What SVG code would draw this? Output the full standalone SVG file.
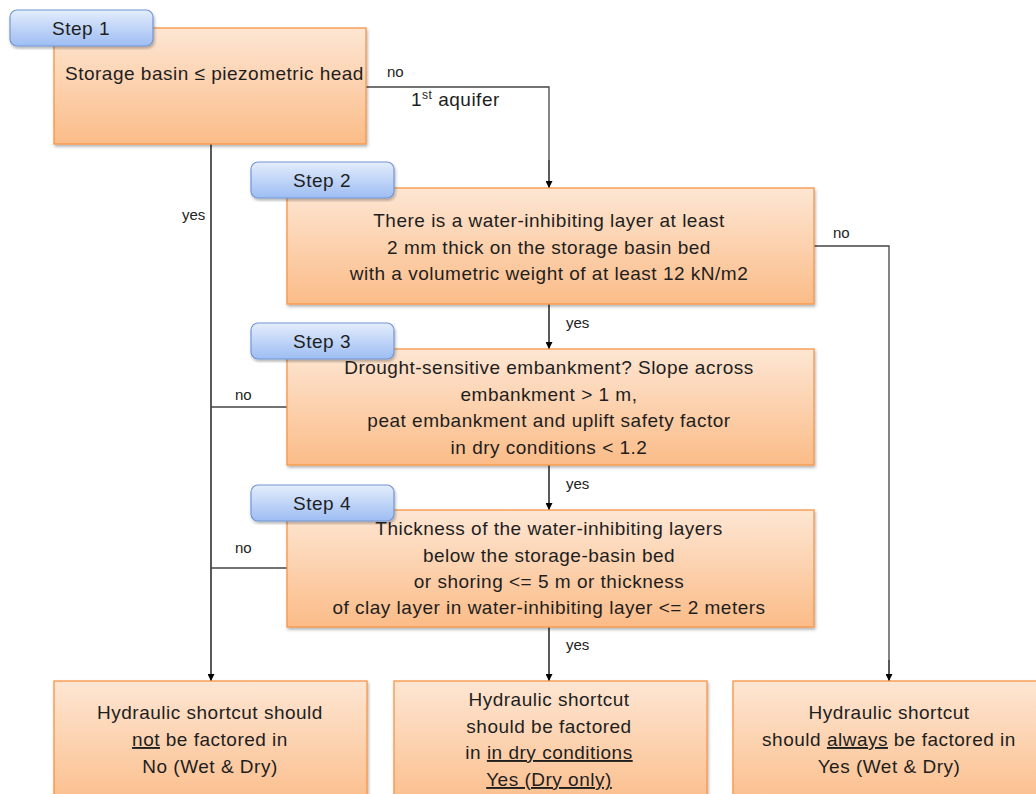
<svg xmlns="http://www.w3.org/2000/svg" width="1036" height="794" viewBox="0 0 1036 794">
<defs>
<linearGradient id="og" x1="0" y1="0" x2="0" y2="1">
<stop offset="0" stop-color="#fde6d3"/>
<stop offset="1" stop-color="#fbbc88"/>
</linearGradient>
<linearGradient id="bg" x1="0" y1="0" x2="0" y2="1">
<stop offset="0" stop-color="#e4edfc"/>
<stop offset="1" stop-color="#9dbdf3"/>
</linearGradient>
<filter id="sh" x="-5%" y="-5%" width="110%" height="115%">
<feDropShadow dx="1" dy="2" stdDeviation="1.5" flood-color="#000" flood-opacity="0.3"/>
</filter>
<marker id="ah" viewBox="0 0 10 10" refX="10" refY="5" markerWidth="7" markerHeight="7" orient="auto" markerUnits="userSpaceOnUse">
<path d="M0,0 L10,5 L0,10 z" fill="#000"/>
</marker>
</defs>
<style>
.box{fill:url(#og);stroke:#f79646;stroke-width:1.3;filter:url(#sh)}
.tab{fill:url(#bg);stroke:#7396d4;stroke-width:1.2;filter:url(#sh)}
.t{font-family:"Liberation Sans",Arial,sans-serif;font-size:19px;letter-spacing:0.5px;fill:#1e1e1e;text-anchor:middle}
.tl{font-family:"Liberation Sans",Arial,sans-serif;font-size:19px;letter-spacing:0.5px;fill:#1e1e1e}
.s{font-family:"Liberation Sans",Arial,sans-serif;font-size:15px;fill:#222}
.ln{fill:none;stroke:#444;stroke-width:1.3}
.ar{fill:none;stroke:#000;stroke-width:1.3;marker-end:url(#ah)}
.u{text-decoration:underline}
</style>
<rect width="1036" height="794" fill="#fff"/>
<g id="connectors">
<path class="ln" d="M366,87 H549 V160"/>
<path class="ar" d="M549,160 V188"/>
<path class="ar" d="M211,144 V681"/>
<path class="ln" d="M814,246 H889 V660"/>
<path class="ar" d="M889,660 V681"/>
<path class="ar" d="M549,304 V349"/>
<path class="ar" d="M549,465 V510"/>
<path class="ar" d="M549,627 V681"/>
<path class="ln" d="M287,407 H211"/>
<path class="ln" d="M287,568 H211"/>
<text class="s" x="387" y="77">no</text>
<text class="tl" x="411" y="106">1<tspan font-size="12" dy="-7">st</tspan><tspan dy="7"> aquifer</tspan></text>
<text class="s" x="182" y="220">yes</text>
<text class="s" x="833" y="238">no</text>
<text class="s" x="566" y="328">yes</text>
<text class="s" x="566" y="489">yes</text>
<text class="s" x="566" y="650">yes</text>
<text class="s" x="235" y="400">no</text>
<text class="s" x="235" y="553">no</text>
</g>
<g id="step1">
<rect class="box" x="54" y="28" width="312" height="116"/>
<rect class="tab" x="10" y="10" width="143" height="36" rx="7"/>
<text class="t" x="81" y="35">Step 1</text>
<text class="tl" x="65" y="80">Storage basin ≤ piezometric head</text>
</g>
<g id="step2">
<rect class="box" x="287" y="188" width="527" height="116"/>
<rect class="tab" x="251" y="162" width="143" height="36" rx="7"/>
<text class="t" x="322" y="187">Step 2</text>
<text class="t" x="549" y="227">There is a water-inhibiting layer at least</text>
<text class="t" x="549" y="254">2 mm thick on the storage basin bed</text>
<text class="t" x="549" y="280">with a volumetric weight of at least 12 kN/m2</text>
</g>
<g id="step3">
<rect class="box" x="287" y="349" width="527" height="116"/>
<rect class="tab" x="251" y="323" width="143" height="36" rx="7"/>
<text class="t" x="322" y="348">Step 3</text>
<text class="t" x="549" y="374">Drought-sensitive embankment? Slope across</text>
<text class="t" x="549" y="401">embankment &gt; 1 m,</text>
<text class="t" x="549" y="427">peat embankment and uplift safety factor</text>
<text class="t" x="549" y="454">in dry conditions &lt; 1.2</text>
</g>
<g id="step4">
<rect class="box" x="287" y="510" width="527" height="117"/>
<rect class="tab" x="251" y="485" width="143" height="36" rx="7"/>
<text class="t" x="322" y="510">Step 4</text>
<text class="t" x="549" y="535">Thickness of the water-inhibiting layers</text>
<text class="t" x="549" y="562">below the storage-basin bed</text>
<text class="t" x="549" y="588">or shoring &lt;= 5 m or thickness</text>
<text class="t" x="549" y="614">of clay layer in water-inhibiting layer &lt;= 2 meters</text>
</g>
<g id="result-no">
<rect class="box" x="54" y="681" width="313" height="130"/>
<text class="t" x="210" y="719">Hydraulic shortcut should</text>
<text class="t" x="210" y="746"><tspan class="u">not</tspan> be factored in</text>
<text class="t" x="210" y="773">No (Wet &amp; Dry)</text>
</g>
<g id="result-dry">
<rect class="box" x="394" y="681" width="313" height="130"/>
<text class="t" x="549" y="706">Hydraulic shortcut</text>
<text class="t" x="549" y="733">should be factored</text>
<text class="t" x="549" y="759">in <tspan class="u">in dry conditions</tspan></text>
<text class="t" x="549" y="786"><tspan class="u">Yes (Dry only)</tspan></text>
</g>
<g id="result-yes">
<rect class="box" x="733" y="681" width="313" height="130"/>
<text class="t" x="889" y="719">Hydraulic shortcut</text>
<text class="t" x="889" y="746">should <tspan class="u">always</tspan> be factored in</text>
<text class="t" x="889" y="773">Yes (Wet &amp; Dry)</text>
</g>
</svg>
